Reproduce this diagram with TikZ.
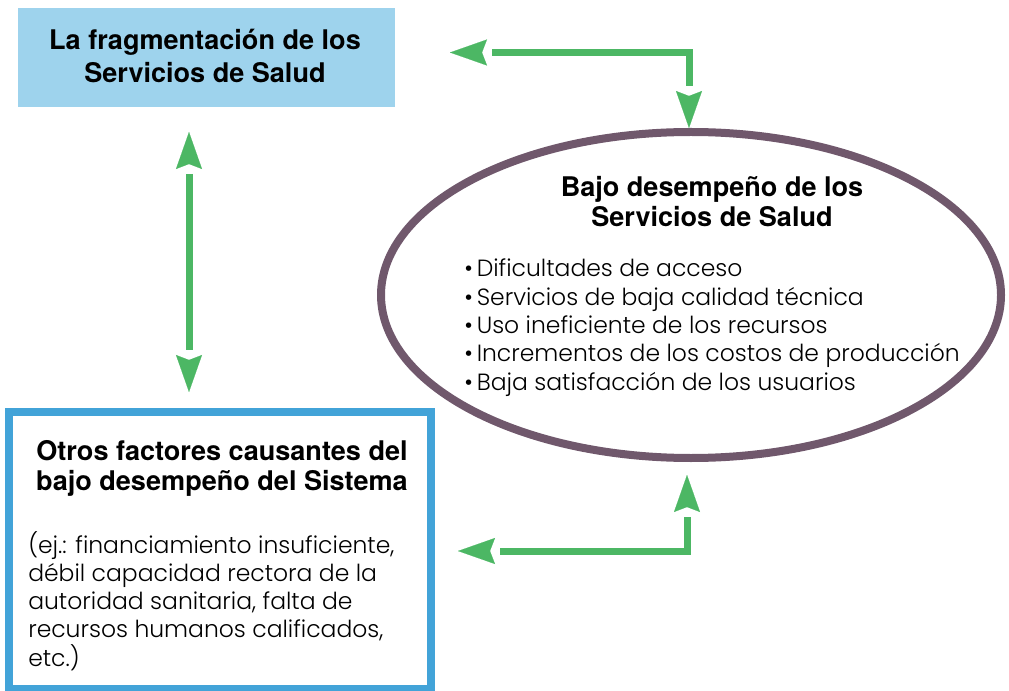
\documentclass[tikz,border=0pt]{standalone}
\usepackage{fontspec}
\usetikzlibrary{arrows.meta,shapes.geometric,calc}
\setmainfont{Poppins}
\IfFontExistsTF{Poppins Light}{\newfontfamily\bodyfont{Poppins Light}}{\newfontfamily\bodyfont{Poppins}}
\newfontfamily\headfont{TeX Gyre Heros}
\definecolor{boxfill}{RGB}{158,211,237}
\definecolor{boxline}{RGB}{66,163,216}
\definecolor{ellline}{RGB}{112,88,108}
\definecolor{arrgreen}{RGB}{76,183,100}
\tikzset{
  tipg/.tip={Stealth[length=27.75pt 0,width=19.5pt 0,inset=3.75pt,color=arrgreen,fill=arrgreen]},
  twoway/.style={draw=white, line width=0.1pt, arrows={tipg-tipg},
    postaction={draw=arrgreen, line width=5.25pt, arrows=-, shorten <=31.5pt, shorten >=31.5pt}},
  headtxt/.style={inner sep=0, anchor=base},
  bodytxt/.style={inner sep=0, anchor=base west},
}
\newcommand{\headset}{\headfont\bfseries\fontsize{20.3}{22.5}\selectfont}
\newcommand{\bodyset}{\bodyfont\fontsize{17.6}{21.2}\selectfont}
\begin{document}
\begin{tikzpicture}[x=0.75pt,y=-0.75pt]
\useasboundingbox (0,0) rectangle (1009,691);
% boxes
\node[draw=none, fill=boxfill, inner sep=0, outer sep=0, minimum width=282.75pt, minimum height=74.25pt] (frag) at (206.5,57.5) {};
\node[draw=boxline, line width=6pt, inner sep=0, outer sep=0, minimum width=316.5pt, minimum height=207.75pt] (other) at (220,550.5) {};
\node[ellipse, draw=ellline, line width=6pt, inner sep=0, outer sep=0, minimum width=465pt, minimum height=244.5pt] (ell) at (691,295) {};
% texts
\node[headtxt] (fragtext) at (205,50) {\parbox[t]{300pt}{\centering\headfont\bfseries\fontsize{20.3}{24.75}\selectfont La fragmentación de los\\Servicios de Salud}};
\node[headtxt] (elltitle) at (712,197) {\parbox[t]{300pt}{\centering\headset Bajo desempeño de los\\Servicios de Salud}};
\node[bodytxt] (elllist) at (464,277) {\parbox[t]{420pt}{\bodyset
\textbullet\,Dificultades de acceso\\
\textbullet\,Servicios de baja calidad técnica\\
\textbullet\,Uso ineficiente de los recursos\\
\textbullet\,Incrementos de los costos de producción\\
\textbullet\,Baja satisfacción de los usuarios}};
\node[headtxt] (othertitle) at (222,460) {\parbox[t]{320pt}{\centering\headset Otros factores causantes del\\bajo desempeño del Sistema}};
\node[bodytxt] (otherbody) at (28,553) {\parbox[t]{310pt}{\bodyset
(ej.: financiamiento insuficiente,\\
débil capacidad rectora de la\\
autoridad sanitaria, falta de\\
recursos humanos calificados,\\
etc.)}};
% connectors
\draw[twoway] ($(frag.east)+(55,-5)$) -| ($(ell.north)+(-2,-4)$);
\draw[twoway] ($(frag.south)+(-17.5,25)$) -- ($(other.north)+(-31,-20)$);
\draw[twoway] ($(other.east)+(27,0.5)$) -| ($(ell.south)+(-4,17)$);
\end{tikzpicture}
\end{document}
